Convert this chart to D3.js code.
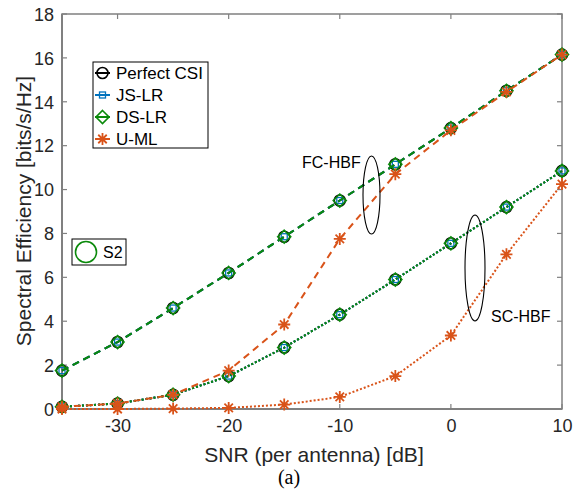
<!DOCTYPE html>
<html>
<head>
<meta charset="utf-8">
<script src="https://cdn.jsdelivr.net/npm/d3@7"></script>
<style>
  body { margin: 0; background: #fff; }
  svg { display: block; }
  text { font-family: "Liberation Sans", Arial, Helvetica, sans-serif; }
</style>
</head>
<body>
<svg id="chart" width="573" height="489"></svg>
<script>
// ---------- data ----------
const snr = [-35, -30, -25, -20, -15, -10, -5, 0, 5, 10];

// FC-HBF (dashed)
const fcPerfect = [1.75, 3.05, 4.6, 6.2, 7.85, 9.5, 11.15, 12.8, 14.5, 16.15];
const fcJSLR    = [1.75, 3.05, 4.6, 6.2, 7.85, 9.5, 11.15, 12.8, 14.5, 16.15];
const fcDSLR    = [1.75, 3.05, 4.6, 6.2, 7.85, 9.5, 11.15, 12.8, 14.5, 16.15];
const fcUML     = [0.1, 0.25, 0.65, 1.75, 3.85, 7.75, 10.7, 12.7, 14.45, 16.15];

// SC-HBF (dotted)
const scPerfect = [0.1, 0.25, 0.65, 1.5, 2.8, 4.3, 5.9, 7.55, 9.2, 10.85];
const scJSLR    = [0.1, 0.25, 0.65, 1.5, 2.8, 4.3, 5.9, 7.55, 9.2, 10.85];
const scDSLR    = [0.1, 0.25, 0.65, 1.5, 2.8, 4.3, 5.9, 7.55, 9.2, 10.85];
const scUML     = [0.0, 0.0, 0.02, 0.05, 0.2, 0.55, 1.5, 3.35, 7.05, 10.25];

const xTicks = [-30, -20, -10, 0, 10];
const yTicks = [0, 2, 4, 6, 8, 10, 12, 14, 16, 18];
const legendLabels = ["Perfect CSI", "JS-LR", "DS-LR", "U-ML"];

// ---------- layout ----------
const svg = d3.select("#chart");
const L = 62, R = 562, T = 14, B = 409;
const x = d3.scaleLinear().domain([-35, 10]).range([L, R]);
const y = d3.scaleLinear().domain([0, 18]).range([B, T]);

const cBlack = "#000000", cBlue = "#0072BD", cGreen = "#0b8a0b", cOrange = "#D95319";
const axisCol = "#808080", textCol = "#262626";

// axes box
const g = svg.append("g");
g.append("rect").attr("x", L).attr("y", T).attr("width", R - L).attr("height", B - T)
  .attr("fill", "none").attr("stroke", axisCol).attr("stroke-width", 1.5);
g.append("line").attr("x1", L).attr("x2", L).attr("y1", T).attr("y2", B).attr("stroke", axisCol).attr("stroke-width", 2);
g.append("line").attr("x1", L).attr("x2", R).attr("y1", B).attr("y2", B).attr("stroke", axisCol).attr("stroke-width", 2);

// tick labels via d3 axes
const xAxis = d3.axisBottom(x).tickValues(xTicks).tickSize(0).tickPadding(0).tickFormat(d => d);
const gx = svg.append("g").attr("transform", `translate(0,${B})`).call(xAxis);
gx.select(".domain").remove();
gx.selectAll("text").attr("dy", null).attr("y", 23).style("font-size", "18px").attr("fill", textCol)
  .style("font-family", "Liberation Sans, Arial, sans-serif");
const yAxis = d3.axisLeft(y).tickValues(yTicks).tickSize(0).tickPadding(0).tickFormat(d => d);
const gy = svg.append("g").attr("transform", `translate(${L},0)`).call(yAxis);
gy.select(".domain").remove();
gy.selectAll("text").attr("x", -8).attr("dy", "0.35em").style("font-size", "18px").attr("fill", textCol)
  .style("font-family", "Liberation Sans, Arial, sans-serif");

// inner tick marks
const tl = 5;
xTicks.forEach(t => {
  g.append("line").attr("x1", x(t)).attr("x2", x(t)).attr("y1", B).attr("y2", B - tl).attr("stroke", axisCol).attr("stroke-width", 1.2);
  g.append("line").attr("x1", x(t)).attr("x2", x(t)).attr("y1", T).attr("y2", T + tl).attr("stroke", axisCol).attr("stroke-width", 1.2);
});
yTicks.forEach(t => {
  g.append("line").attr("x1", L).attr("x2", L + tl).attr("y1", y(t)).attr("y2", y(t)).attr("stroke", axisCol).attr("stroke-width", 1.2);
  g.append("line").attr("x1", R).attr("x2", R - tl).attr("y1", y(t)).attr("y2", y(t)).attr("stroke", axisCol).attr("stroke-width", 1.2);
});

// labels
svg.append("text").attr("x", 314).attr("y", 462).attr("text-anchor", "middle")
  .style("font-size", "21px").attr("fill", textCol).text("SNR (per antenna) [dB]");
svg.append("text").attr("transform", "translate(31,211) rotate(-90)").attr("text-anchor", "middle")
  .style("font-size", "21px").attr("fill", textCol).text("Spectral Efficiency [bits/s/Hz]");
svg.append("text").attr("x", 289).attr("y", 484).attr("text-anchor", "middle")
  .style("font-size", "20px").style("font-family", "Liberation Serif, Times New Roman, serif").attr("fill", "#000").text("(a)");

// ---------- markers ----------
function drawMarker(sel, type, color) {
  if (type === "circle") {
    sel.append("circle").attr("r", 5.5).attr("fill", "none").attr("stroke", color).attr("stroke-width", 1.6);
  } else if (type === "square") {
    sel.append("rect").attr("x", -3).attr("y", -3).attr("width", 6).attr("height", 6)
      .attr("fill", "none").attr("stroke", color).attr("stroke-width", 1.3);
  } else if (type === "diamond") {
    sel.append("path").attr("d", "M0,-6.5L6.5,0L0,6.5L-6.5,0Z").attr("fill", "none").attr("stroke", color).attr("stroke-width", 1.6);
  } else if (type === "star") {
    const r = 6;
    const d = [0, 45, 90, 135].map(a => {
      const rad = a * Math.PI / 180, dx = r * Math.cos(rad), dy = r * Math.sin(rad);
      return `M${-dx},${-dy}L${dx},${dy}`;
    }).join("");
    sel.append("path").attr("d", d).attr("stroke", color).attr("stroke-width", 1.8).attr("fill", "none");
  }
}

const series = [
  { vals: fcPerfect, color: cBlack, marker: "circle", dash: "7,5" },
  { vals: scPerfect, color: cBlack, marker: "circle", dash: "2,2" },
  { vals: fcJSLR, color: cBlue, marker: "square", dash: "7,5" },
  { vals: scJSLR, color: cBlue, marker: "square", dash: "2,2" },
  { vals: fcDSLR, color: cGreen, marker: "diamond", dash: "7,5" },
  { vals: scDSLR, color: cGreen, marker: "diamond", dash: "2,2" },
  { vals: fcUML, color: cOrange, marker: "star", dash: "7,5" },
  { vals: scUML, color: cOrange, marker: "star", dash: "2,2" }
];

const line = d3.line().x((d, i) => x(snr[i])).y(d => y(d));
series.forEach(s => {
  svg.append("path").datum(s.vals).attr("d", line).attr("fill", "none")
    .attr("stroke", s.color).attr("stroke-width", 2).attr("stroke-dasharray", s.dash);
  s.vals.forEach((v, i) => {
    const m = svg.append("g").attr("transform", `translate(${x(snr[i])},${y(v)})`);
    drawMarker(m, s.marker, s.color);
  });
});

// ---------- annotations ----------
svg.append("ellipse").attr("cx", 371.5).attr("cy", 195).attr("rx", 8.5).attr("ry", 39)
  .attr("fill", "none").attr("stroke", "#000").attr("stroke-width", 1.1);
svg.append("text").attr("x", 302).attr("y", 168).style("font-size", "16px").attr("fill", "#000").text("FC-HBF");
svg.append("ellipse").attr("cx", 475).attr("cy", 268).attr("rx", 10).attr("ry", 53)
  .attr("fill", "none").attr("stroke", "#000").attr("stroke-width", 1.1);
svg.append("text").attr("x", 491).attr("y", 322).style("font-size", "16px").attr("fill", "#000").text("SC-HBF");

// ---------- legend ----------
const lg = svg.append("g");
lg.append("rect").attr("x", 93).attr("y", 62).attr("width", 115).attr("height", 86)
  .attr("fill", "#fff").attr("stroke", "#000").attr("stroke-width", 1);
const legMarkers = ["circle", "square", "diamond", "star"];
const legColors = [cBlack, cBlue, cGreen, cOrange];
legendLabels.forEach((lab, i) => {
  const yy = 73 + i * 22;
  lg.append("line").attr("x1", 95).attr("x2", 110).attr("y1", yy).attr("y2", yy)
    .attr("stroke", legColors[i]).attr("stroke-width", 2);
  const m = lg.append("g").attr("transform", `translate(102.5,${yy})`);
  drawMarker(m, legMarkers[i], legColors[i]);
  lg.append("text").attr("x", 116).attr("y", yy).attr("dy", "0.35em").style("font-size", "17px")
    .attr("fill", "#000").text(lab);
});

// S2 box
svg.append("rect").attr("x", 72).attr("y", 239).attr("width", 54).attr("height", 26)
  .attr("fill", "#fff").attr("stroke", "#000").attr("stroke-width", 1);
svg.append("circle").attr("cx", 86).attr("cy", 252).attr("r", 10.5).attr("fill", "none")
  .attr("stroke", cGreen).attr("stroke-width", 1.6);
svg.append("text").attr("x", 103).attr("y", 252).attr("dy", "0.35em").style("font-size", "16px")
  .attr("fill", "#000").text("S2");
</script>
</body>
</html>
